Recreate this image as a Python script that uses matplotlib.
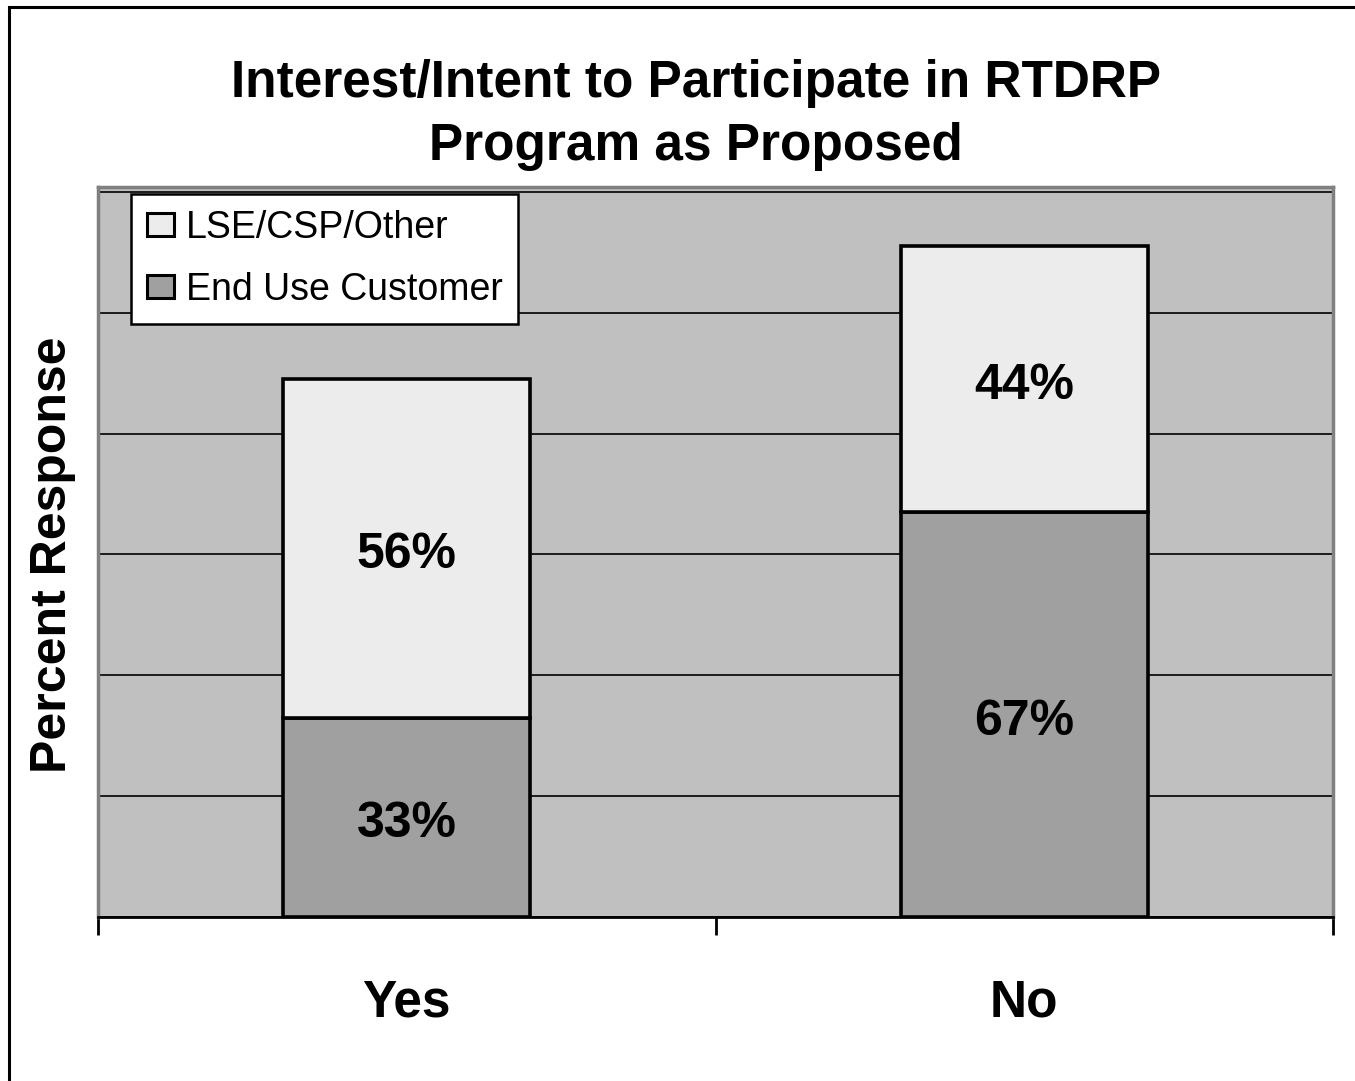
import matplotlib.pyplot as plt
from matplotlib.patches import Rectangle, Patch

plt.rcParams['font.family'] = ['Liberation Sans', 'DejaVu Sans']

categories = ['Yes', 'No']
end_use = [33, 67]
lse_other = [56, 44]
series_names = ['LSE/CSP/Other', 'End Use Customer']

fig = plt.figure(figsize=(13.55, 10.81), dpi=100)
ax = fig.add_axes([98 / 1355, 1 - 917 / 1081, 1235 / 1355, 730 / 1081])
ax.set_facecolor('#C0C0C0')

x = range(len(categories))
ax.set_axisbelow(True)
ax.yaxis.grid(True, color='black', linewidth=1.2)
b1 = ax.bar(x, end_use, width=0.4, color='#A0A0A0', edgecolor='black', linewidth=2.6)
b2 = ax.bar(x, lse_other, bottom=end_use, width=0.4, color='#ECECEC', edgecolor='black', linewidth=2.6)

for bars, vals in ((b1, end_use), (b2, lse_other)):
    ax.bar_label(bars, labels=[f'{v}%' for v in vals], label_type='center',
                 fontsize=36, fontweight='bold', color='black', padding=-5)

ax.set_xlim(-0.5, 1.5)
ax.set_ylim(0, 120.8)
ax.set_yticks(range(0, 121, 20))
ax.tick_params(axis='y', length=0, labelleft=False)
ax.set_xticks(list(x))
ax.set_xticklabels(categories, fontsize=37, fontweight='bold')
ax.tick_params(axis='x', which='major', length=0, pad=44)
ax.set_xticks([-0.5, 0.5, 1.5], minor=True)
ax.tick_params(axis='x', which='minor', length=13, width=2, direction='out', color='black')

for side in ('top', 'left', 'right'):
    ax.spines[side].set_color('#808080')
    ax.spines[side].set_linewidth(2.5)
ax.spines['bottom'].set_color('black')
ax.spines['bottom'].set_linewidth(2)

handles = [Patch(facecolor='#ECECEC', edgecolor='black', linewidth=2.2),
           Patch(facecolor='#A0A0A0', edgecolor='black', linewidth=2.2)]
leg = ax.legend(handles, series_names, loc='upper left',
                bbox_to_anchor=(33 / 1235, 1 - 7 / 730), borderaxespad=0,
                fontsize=27, fancybox=False, framealpha=1, edgecolor='black',
                handlelength=0.72, handleheight=0.58, handletextpad=0.32,
                labelspacing=0.7, borderpad=0.42)
leg.get_frame().set_linewidth(1.8)

fig.text(696 / 1355, 1 - 115 / 1081,
         'Interest/Intent to Participate in RTDRP\nProgram as Proposed',
         ha='center', va='center', fontsize=37, fontweight='bold', linespacing=1.38)
fig.text(53 / 1355, 1 - 555 / 1081, 'Percent Response', rotation=90,
         ha='center', va='center', fontsize=36, fontweight='bold')

fig.add_artist(Rectangle((8.5 / 1355, -0.05), 1.2, 1.05 - 7 / 1081,
                         transform=fig.transFigure, fill=False,
                         edgecolor='black', linewidth=2.2))

fig.savefig('out.png', dpi=100)
